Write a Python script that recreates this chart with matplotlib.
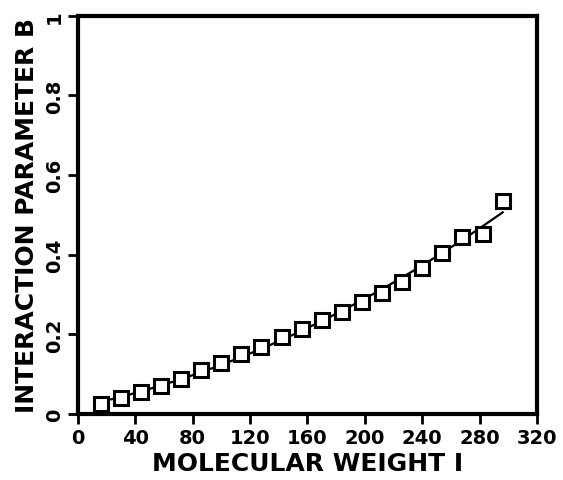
import numpy as np
import matplotlib
matplotlib.use("Agg")
from matplotlib import pyplot as plt

# molecular weight (homologous series, step of 14)
mol_weight = [16, 30, 44, 58, 72, 86, 100, 114, 128, 142, 156,
              170, 184, 198, 212, 226, 240, 254, 268, 282, 296]
# interaction parameter B
param_b = [0.025, 0.040, 0.055, 0.071, 0.088, 0.111, 0.128, 0.151, 0.168, 0.193, 0.214,
           0.237, 0.256, 0.281, 0.304, 0.331, 0.366, 0.405, 0.444, 0.451, 0.534]

x_ticks = [0, 40, 80, 120, 160, 200, 240, 280, 320]
y_ticks = [0, 0.2, 0.4, 0.6, 0.8, 1]
y_tick_labels = ["0", "0.2", "0.4", "0.6", "0.8", "1"]

plt.rcParams['font.family'] = ['DejaVu Sans']
plt.rcParams['font.weight'] = 'bold'

fig = plt.figure(figsize=(5.63, 4.81), dpi=100)
ax = fig.add_axes([0.138, 0.137, 0.816, 0.828])

# smooth fitted curve through the points
coef = np.polyfit(mol_weight, param_b, 2)
xs = np.linspace(mol_weight[0], mol_weight[-1], 200)
ax.plot(xs, np.polyval(coef, xs), color='black', lw=1.6)

ax.plot(mol_weight, param_b, 's', ms=9.5, mfc='white', mec='black', mew=2.2)

ax.set_xlim(0, 320)
ax.set_ylim(0, 1)
ax.set_xticks(x_ticks)
ax.set_yticks(y_ticks)
ax.set_yticklabels(y_tick_labels, rotation=90, va='center')
ax.tick_params(direction='out', length=7, width=2, labelsize=14, pad=3)

for side in ['left', 'bottom', 'top', 'right']:
    ax.spines[side].set_linewidth(3)

ax.set_xlabel("MOLECULAR WEIGHT I", fontsize=18, fontweight='heavy', labelpad=3)
ax.set_ylabel("INTERACTION PARAMETER B", fontsize=18, fontweight='heavy', labelpad=4)

fig.savefig("out.png", dpi=100)
